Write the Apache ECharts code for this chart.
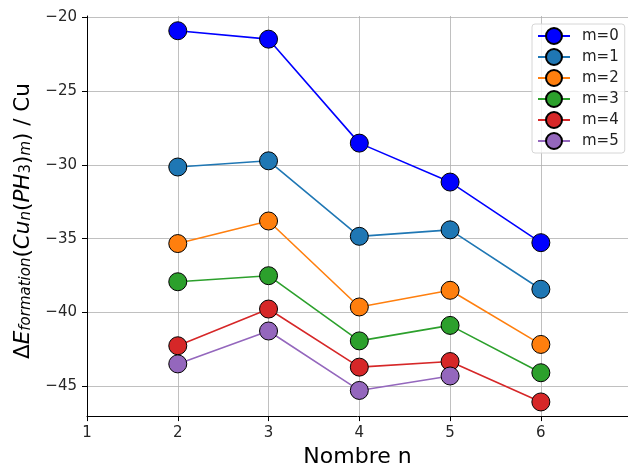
<!DOCTYPE html>
<html>
<head>
<meta charset="utf-8">
<script src="https://cdn.jsdelivr.net/npm/echarts@6/dist/echarts.min.js"></script>
<style>html,body{margin:0;padding:0;background:#fff}#c{width:628px;height:473px}</style>
</head>
<body>
<div id="c"></div>
<script>
const nValues = [2, 3, 4, 5, 6];
const seriesNames = ['m=0', 'm=1', 'm=2', 'm=3', 'm=4', 'm=5'];
const m0 = [-20.90, -21.47, -28.52, -31.16, -35.27];
const m1 = [-30.14, -29.72, -34.84, -34.40, -38.43];
const m2 = [-35.33, -33.80, -39.63, -38.50, -42.17];
const m3 = [-37.92, -37.51, -41.93, -40.88, -44.09];
const m4 = [-42.26, -39.77, -43.71, -43.33, -46.07];
const m5 = [-43.49, -41.26, -45.29, -44.31];
const xTicks = [1, 2, 3, 4, 5, 6];
const yTicks = [-45, -40, -35, -30, -25, -20];
const colors = ['#0000ff', '#1f77b4', '#ff7f0e', '#2ca02c', '#d62728', '#9467bd'];
const allSeries = [m0, m1, m2, m3, m4, m5];

const font = 'DejaVu Sans';
const chart = echarts.init(document.getElementById('c'), null, {renderer: 'canvas'});
chart.setOption({
  animation: false,
  backgroundColor: '#fff',
  grid: {left: 87, top: 16, right: 0, bottom: 51, containLabel: false},
  xAxis: {
    type: 'value', min: 1, max: 6.96,
    axisLine: {show: true, onZero: false, lineStyle: {color: '#000', width: 1}},
    axisTick: {show: true, length: 5, lineStyle: {color: '#000'}, customValues: xTicks},
    axisLabel: {customValues: xTicks, color: '#262626', fontSize: 15, fontFamily: font, margin: 10},
    splitLine: {show: true, lineStyle: {color: '#b0b0b0', width: 0.8}},
    name: 'Nombre n', nameLocation: 'middle', nameGap: 29,
    nameTextStyle: {fontSize: 22, color: '#000', fontFamily: font}
  },
  yAxis: {
    type: 'value', min: -47.03, max: -19.9,
    axisLine: {show: true, onZero: false, lineStyle: {color: '#000', width: 1}},
    axisTick: {show: true, length: 5, lineStyle: {color: '#000'}, customValues: yTicks},
    axisLabel: {customValues: yTicks, color: '#262626', fontSize: 15, fontFamily: font, margin: 10,
      formatter: v => String(v).replace('-', '\u2212')},
    splitLine: {show: true, lineStyle: {color: '#b0b0b0', width: 0.8}}
  },
  legend: {
    orient: 'vertical', left: 532, top: 24,
    itemWidth: 32, itemHeight: 20, itemGap: 3,
    padding: [3, 6, 3, 5],
    borderColor: '#d6d6d6', borderWidth: 1, borderRadius: 3,
    backgroundColor: 'rgba(255,255,255,0.8)',
    textStyle: {fontSize: 15, color: '#222', fontFamily: font, padding: [0, 0, 0, 7]},
    data: seriesNames
  },
  graphic: [{
    type: 'text', x: 23, y: 221, rotation: Math.PI / 2,
    style: {
      text: '\u0394{it|E}{sub|formation}({it|Cu}{sub|n}({it|PH}{subr|3}){sub|m}) / Cu',
      fontSize: 21.5, fontFamily: font, fill: '#000', align: 'center', verticalAlign: 'middle',
      rich: {
        it: {fontSize: 21.5, fontStyle: 'italic', fontFamily: font},
        sub: {fontSize: 15, fontStyle: 'italic', fontFamily: font, verticalAlign: 'bottom', lineHeight: 13},
        subr: {fontSize: 15, fontFamily: font, verticalAlign: 'bottom', lineHeight: 13}
      }
    }
  }],
  series: allSeries.map((arr, i) => ({
    name: seriesNames[i], type: 'line',
    data: arr.map((v, j) => [nValues[j], v]),
    symbol: 'circle', symbolSize: 18,
    itemStyle: {color: colors[i], borderColor: '#000', borderWidth: 1},
    lineStyle: {color: colors[i], width: 1.6},
    z: 2 + i
  }))
});
</script>
</body>
</html>
